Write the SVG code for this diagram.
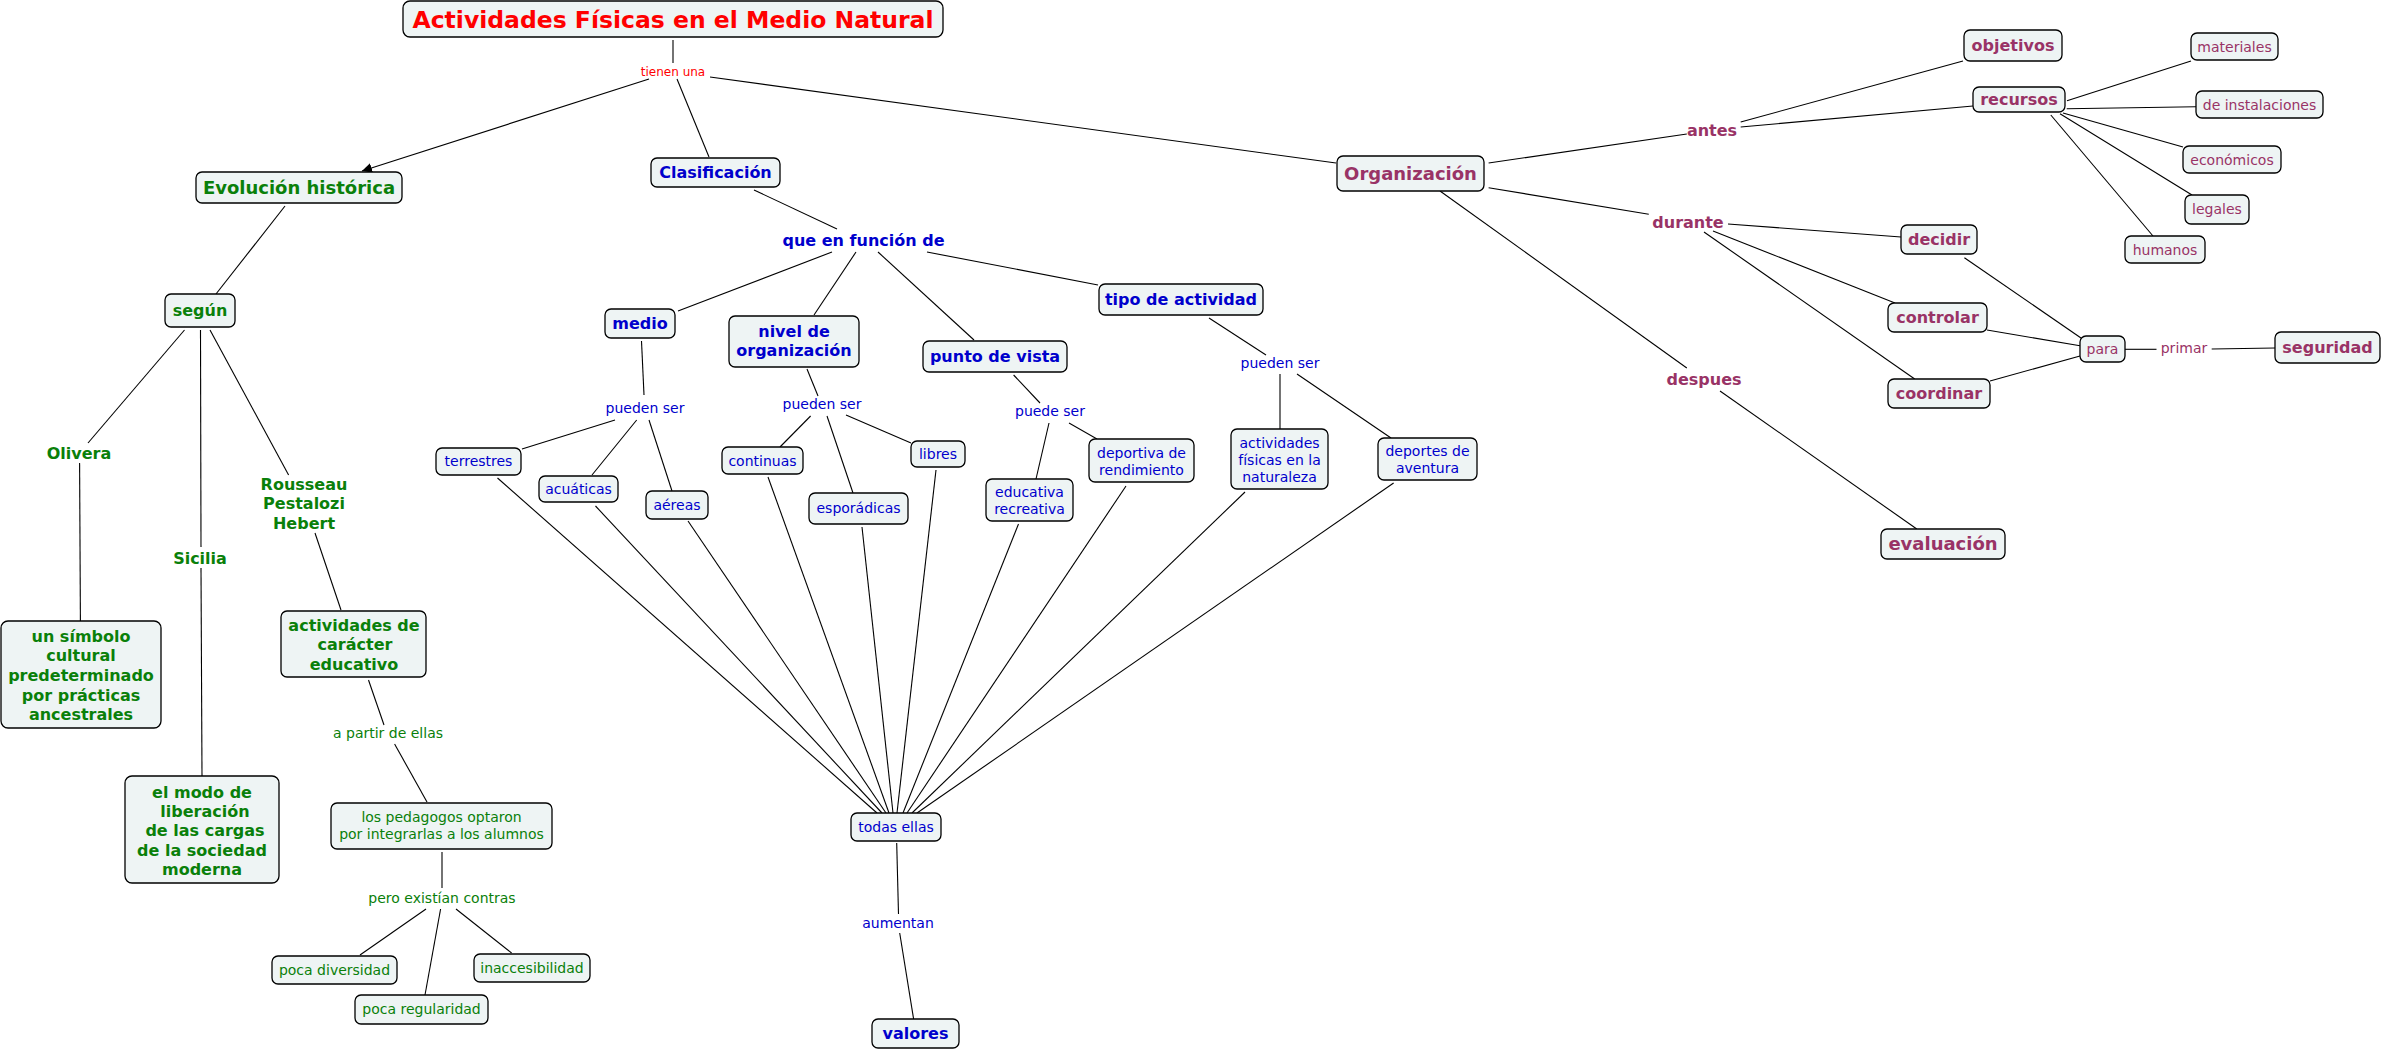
<svg xmlns="http://www.w3.org/2000/svg" width="2383" height="1050" viewBox="0 0 2383 1050">
<style>
  text { font-family: "DejaVu Sans", Verdana, sans-serif; text-anchor: middle; }
  .box { fill: #EEF4F4; stroke: #000; stroke-width: 1.3; }
  .b { font-weight: bold; font-size: 16px; }
  .b18 { font-weight: bold; font-size: 18px; }
  .n { font-size: 14px; }
  .red { fill: #FF0000; }
  .g { fill: #0A800A; }
  .bl { fill: #0000CC; }
  .m { fill: #993366; }
  #connectors line { stroke: #000; stroke-width: 1.1; fill: none; }
</style>
<defs>
  <marker id="arrow" viewBox="0 0 10 10" refX="10" refY="5" markerWidth="10" markerHeight="10" markerUnits="userSpaceOnUse" orient="auto">
    <path d="M0,0 L10,5 L0,10 z" fill="#000"/>
  </marker>
</defs>
<rect width="2383" height="1050" fill="#fff"/>

<g id="connectors">
  <line x1="673" y1="40" x2="673" y2="63"/>
  <line x1="649" y1="79" x2="362" y2="171" marker-end="url(#arrow)"/>
  <line x1="677" y1="79" x2="709" y2="157"/>
  <line x1="710" y1="77" x2="1336" y2="163"/>
  <line x1="754" y1="190" x2="837" y2="229"/>
  <line x1="832" y1="252" x2="678" y2="311"/>
  <line x1="856" y1="252" x2="814" y2="315"/>
  <line x1="878" y1="252" x2="974" y2="340"/>
  <line x1="927" y1="252" x2="1098" y2="285"/>
  <line x1="285" y1="206" x2="216" y2="294"/>
  <line x1="184.5" y1="330" x2="88" y2="443"/>
  <line x1="79.6" y1="463" x2="80.4" y2="621"/>
  <line x1="200.5" y1="330" x2="201" y2="547"/>
  <line x1="201" y1="568" x2="202" y2="776"/>
  <line x1="210" y1="330" x2="288.6" y2="475"/>
  <line x1="315" y1="533" x2="341" y2="610"/>
  <line x1="368.5" y1="680" x2="384" y2="725"/>
  <line x1="394.6" y1="744" x2="427" y2="802"/>
  <line x1="442" y1="852" x2="442" y2="888"/>
  <line x1="426" y1="909" x2="360" y2="955"/>
  <line x1="440.6" y1="909" x2="425" y2="995"/>
  <line x1="456" y1="909" x2="511.6" y2="953"/>
  <line x1="641.5" y1="341" x2="644" y2="395"/>
  <line x1="615" y1="420" x2="522" y2="449"/>
  <line x1="636.7" y1="420" x2="592" y2="475"/>
  <line x1="649" y1="420" x2="672" y2="491"/>
  <line x1="807" y1="369" x2="818" y2="396"/>
  <line x1="810.6" y1="416" x2="780" y2="447"/>
  <line x1="827" y1="416" x2="853" y2="493"/>
  <line x1="846" y1="415" x2="911" y2="443"/>
  <line x1="1013.6" y1="375" x2="1040" y2="403"/>
  <line x1="1049" y1="423" x2="1036" y2="479"/>
  <line x1="1069" y1="423" x2="1097" y2="439"/>
  <line x1="1209" y1="318" x2="1266" y2="355"/>
  <line x1="1280" y1="374" x2="1280" y2="429"/>
  <line x1="1297" y1="374" x2="1391" y2="438"/>
  <line x1="497.5" y1="478" x2="877" y2="813"/>
  <line x1="595.5" y1="506" x2="882" y2="813"/>
  <line x1="688" y1="521" x2="886" y2="813"/>
  <line x1="768" y1="477" x2="889" y2="813"/>
  <line x1="862" y1="527" x2="893" y2="813"/>
  <line x1="936" y1="470" x2="897" y2="813"/>
  <line x1="1018.5" y1="524" x2="903" y2="813"/>
  <line x1="1126" y1="486" x2="907" y2="813"/>
  <line x1="1245" y1="492" x2="912" y2="813"/>
  <line x1="1393.6" y1="483" x2="917" y2="813"/>
  <line x1="896.7" y1="843" x2="898.5" y2="914"/>
  <line x1="899.7" y1="933" x2="913.6" y2="1019"/>
  <line x1="1488.6" y1="163" x2="1686.8" y2="134"/>
  <line x1="1740.7" y1="122" x2="1963" y2="61"/>
  <line x1="1740.7" y1="127" x2="1973" y2="106"/>
  <line x1="2067" y1="100.7" x2="2191" y2="61"/>
  <line x1="2066.7" y1="108.7" x2="2196" y2="106.7"/>
  <line x1="2063" y1="113" x2="2183" y2="147"/>
  <line x1="2060" y1="113.7" x2="2192" y2="195"/>
  <line x1="2050.8" y1="115" x2="2153" y2="236"/>
  <line x1="1488.6" y1="187.7" x2="1648.8" y2="214.3"/>
  <line x1="1728" y1="224" x2="1901" y2="237"/>
  <line x1="1713" y1="231" x2="1895" y2="303"/>
  <line x1="1704" y1="232" x2="1914.7" y2="379"/>
  <line x1="1964.4" y1="257.7" x2="2081" y2="338"/>
  <line x1="1987" y1="330" x2="2080" y2="345.7"/>
  <line x1="1990" y1="381" x2="2080" y2="356"/>
  <line x1="2125" y1="349.3" x2="2156.5" y2="349.3"/>
  <line x1="2211.7" y1="349" x2="2275" y2="348"/>
  <line x1="1440" y1="191" x2="1686.8" y2="368"/>
  <line x1="1720" y1="391" x2="1916.8" y2="529"/>
</g>

<!-- linking phrases -->
<g id="lp-tienen"><text x="673" y="76" font-size="12" class="red">tienen una</text></g>
<g id="lp-quefuncion"><text x="863.5" y="246" class="b bl">que en función de</text></g>
<g id="lp-olivera"><text x="79" y="459" class="b g">Olivera</text></g>
<g id="lp-sicilia"><text x="200" y="564" class="b g">Sicilia</text></g>
<g id="lp-rousseau"><text class="b g"><tspan x="304" y="490">Rousseau</tspan><tspan x="304" y="509">Pestalozi</tspan><tspan x="304" y="529">Hebert</tspan></text></g>
<g id="lp-apartir"><text x="388" y="738" class="n g">a partir de ellas</text></g>
<g id="lp-pero"><text x="442" y="903" class="n g">pero existían contras</text></g>
<g id="lp-pueden1"><text x="645" y="413" class="n bl">pueden ser</text></g>
<g id="lp-pueden2"><text x="822" y="409" class="n bl">pueden ser</text></g>
<g id="lp-puede"><text x="1050" y="416" class="n bl">puede ser</text></g>
<g id="lp-pueden3"><text x="1280" y="368" class="n bl">pueden ser</text></g>
<g id="lp-aumentan"><text x="898" y="928" class="n bl">aumentan</text></g>
<g id="lp-antes"><text x="1712" y="136" class="b m">antes</text></g>
<g id="lp-durante"><text x="1688" y="228" class="b m">durante</text></g>
<g id="lp-despues"><text x="1704" y="385" class="b m">despues</text></g>
<g id="lp-primar"><text x="2184" y="353" class="n m">primar</text></g>

<!-- concepts -->
<g id="n-title"><rect class="box" x="403" y="1" width="540" height="36" rx="7"/><text x="673" y="28" font-size="23.5" font-weight="bold" class="red">Actividades Físicas en el Medio Natural</text></g>
<g id="n-evol"><rect class="box" x="196" y="172" width="206" height="31" rx="6"/><text x="299" y="194" class="b18 g">Evolución histórica</text></g>
<g id="n-clas"><rect class="box" x="651" y="158" width="129" height="29" rx="6"/><text x="715.5" y="178" class="b bl">Clasificación</text></g>
<g id="n-org"><rect class="box" x="1337" y="156" width="147" height="35" rx="6"/><text x="1410.5" y="180" class="b18 m">Organización</text></g>
<g id="n-segun"><rect class="box" x="165" y="294" width="70" height="33" rx="6"/><text x="200" y="316" class="b g">según</text></g>
<g id="n-medio"><rect class="box" x="605" y="309" width="70" height="29" rx="6"/><text x="640" y="329" class="b bl">medio</text></g>
<g id="n-nivel"><rect class="box" x="729" y="316" width="130" height="51" rx="6"/><text class="b bl"><tspan x="794" y="337">nivel de</tspan><tspan x="794" y="356">organización</tspan></text></g>
<g id="n-punto"><rect class="box" x="923" y="341" width="144" height="31" rx="6"/><text x="995" y="362" class="b bl">punto de vista</text></g>
<g id="n-tipo"><rect class="box" x="1099" y="284" width="164" height="31" rx="6"/><text x="1181" y="305" class="b bl">tipo de actividad</text></g>
<g id="n-terrestres"><rect class="box" x="436" y="448" width="85" height="27" rx="6"/><text x="478.5" y="466" class="n bl">terrestres</text></g>
<g id="n-acuaticas"><rect class="box" x="539" y="476" width="79" height="26" rx="6"/><text x="578.5" y="494" class="n bl">acuáticas</text></g>
<g id="n-aereas"><rect class="box" x="646" y="491" width="62" height="28" rx="6"/><text x="677" y="510" class="n bl">aéreas</text></g>
<g id="n-continuas"><rect class="box" x="722" y="447" width="81" height="27" rx="6"/><text x="762.5" y="466" class="n bl">continuas</text></g>
<g id="n-esporadicas"><rect class="box" x="809" y="493" width="99" height="31" rx="6"/><text x="858.5" y="513" class="n bl">esporádicas</text></g>
<g id="n-libres"><rect class="box" x="911" y="441" width="54" height="26" rx="6"/><text x="938" y="459" class="n bl">libres</text></g>
<g id="n-educativa"><rect class="box" x="986" y="479" width="87" height="42" rx="6"/><text class="n bl"><tspan x="1029.5" y="497">educativa</tspan><tspan x="1029.5" y="514">recreativa</tspan></text></g>
<g id="n-deportiva"><rect class="box" x="1089" y="439" width="105" height="43" rx="6"/><text class="n bl"><tspan x="1141.5" y="458">deportiva de</tspan><tspan x="1141.5" y="475">rendimiento</tspan></text></g>
<g id="n-afn"><rect class="box" x="1231" y="429" width="97" height="60" rx="6"/><text class="n bl"><tspan x="1279.5" y="448">actividades</tspan><tspan x="1279.5" y="465">físicas en la</tspan><tspan x="1279.5" y="482">naturaleza</tspan></text></g>
<g id="n-aventura"><rect class="box" x="1378" y="438" width="99" height="42" rx="6"/><text class="n bl"><tspan x="1427.5" y="456">deportes de</tspan><tspan x="1427.5" y="473">aventura</tspan></text></g>
<g id="n-todas"><rect class="box" x="851" y="813" width="90" height="28" rx="6"/><text x="896" y="832" class="n bl">todas ellas</text></g>
<g id="n-valores"><rect class="box" x="872" y="1019" width="87" height="29" rx="6"/><text x="915.5" y="1039" class="b bl">valores</text></g>
<g id="n-simbolo"><rect class="box" x="1" y="621" width="160" height="107" rx="7"/><text class="b g"><tspan x="81" y="641.5">un símbolo</tspan><tspan x="81" y="661">cultural</tspan><tspan x="81" y="681">predeterminado</tspan><tspan x="81" y="700.5">por prácticas</tspan><tspan x="81" y="720">ancestrales</tspan></text></g>
<g id="n-modo"><rect class="box" x="125" y="776" width="154" height="107" rx="7"/><text class="b g"><tspan x="202" y="797.5">el modo de</tspan><tspan x="205" y="817">liberación</tspan><tspan x="205" y="836">de las cargas</tspan><tspan x="202" y="855.5">de la sociedad</tspan><tspan x="202" y="875">moderna</tspan></text></g>
<g id="n-caracter"><rect class="box" x="281" y="611" width="145" height="66" rx="6"/><text class="b g"><tspan x="354" y="630.5">actividades de</tspan><tspan x="355" y="650">carácter</tspan><tspan x="354" y="669.5">educativo</tspan></text></g>
<g id="n-pedagogos"><rect class="box" x="331" y="803" width="221" height="46" rx="6"/><text class="n g"><tspan x="441.5" y="822">los pedagogos optaron</tspan><tspan x="441.5" y="839">por integrarlas a los alumnos</tspan></text></g>
<g id="n-diversidad"><rect class="box" x="272" y="956" width="125" height="28" rx="6"/><text x="334.5" y="975" class="n g">poca diversidad</text></g>
<g id="n-regularidad"><rect class="box" x="355" y="995" width="133" height="29" rx="6"/><text x="421.5" y="1014" class="n g">poca regularidad</text></g>
<g id="n-inacc"><rect class="box" x="474" y="954" width="116" height="28" rx="6"/><text x="532" y="973" class="n g">inaccesibilidad</text></g>
<g id="n-objetivos"><rect class="box" x="1964" y="30" width="98" height="31" rx="6"/><text x="2013" y="51" class="b m">objetivos</text></g>
<g id="n-recursos"><rect class="box" x="1973" y="87" width="92" height="25" rx="6"/><text x="2019" y="105" class="b m">recursos</text></g>
<g id="n-materiales"><rect class="box" x="2191" y="33" width="87" height="27" rx="6"/><text x="2234.5" y="52" class="n m">materiales</text></g>
<g id="n-instalaciones"><rect class="box" x="2196" y="91" width="127" height="27" rx="6"/><text x="2259.5" y="110" class="n m">de instalaciones</text></g>
<g id="n-economicos"><rect class="box" x="2183" y="146" width="98" height="27" rx="6"/><text x="2232" y="165" class="n m">económicos</text></g>
<g id="n-legales"><rect class="box" x="2185" y="195" width="64" height="29" rx="6"/><text x="2217" y="214" class="n m">legales</text></g>
<g id="n-humanos"><rect class="box" x="2125" y="236" width="80" height="27" rx="6"/><text x="2165" y="255" class="n m">humanos</text></g>
<g id="n-decidir"><rect class="box" x="1901" y="225" width="76" height="29" rx="6"/><text x="1939" y="245" class="b m">decidir</text></g>
<g id="n-controlar"><rect class="box" x="1888" y="303" width="99" height="29" rx="6"/><text x="1937.5" y="323" class="b m">controlar</text></g>
<g id="n-coordinar"><rect class="box" x="1888" y="379" width="102" height="29" rx="6"/><text x="1939" y="399" class="b m">coordinar</text></g>
<g id="n-para"><rect class="box" x="2080" y="336" width="45" height="26" rx="6"/><text x="2102.5" y="354" class="n m">para</text></g>
<g id="n-seguridad"><rect class="box" x="2275" y="332" width="105" height="31" rx="6"/><text x="2327.5" y="353" class="b m">seguridad</text></g>
<g id="n-evaluacion"><rect class="box" x="1881" y="529" width="124" height="30" rx="6"/><text x="1943" y="550" class="b18 m">evaluación</text></g>
</svg>
